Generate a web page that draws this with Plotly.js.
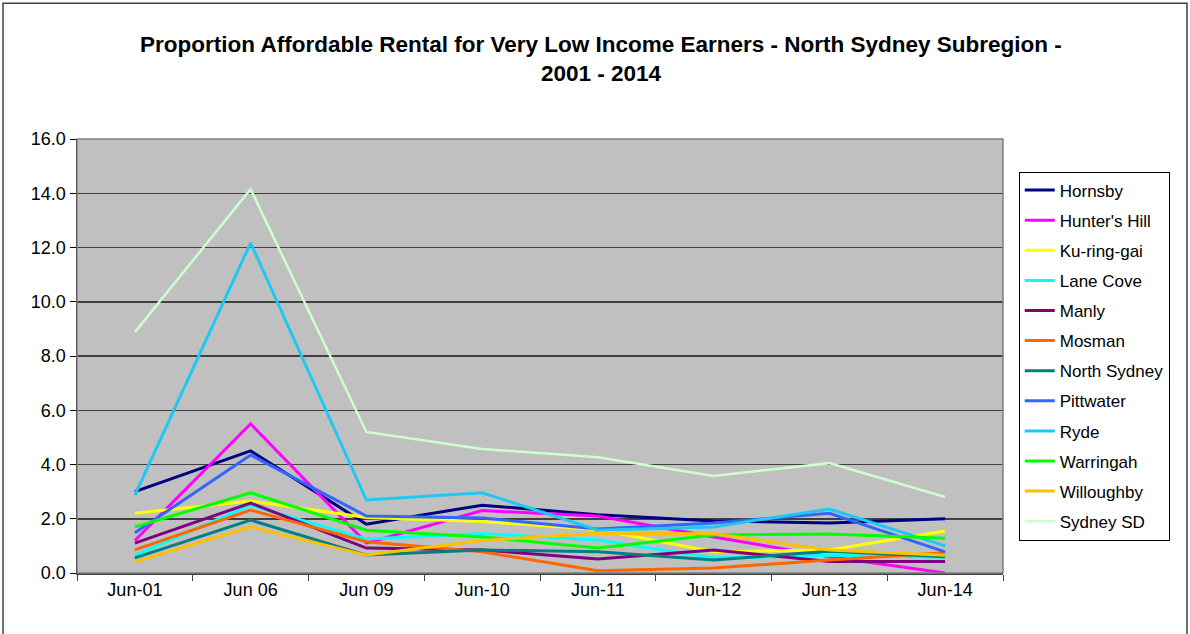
<!DOCTYPE html>
<html>
<head>
<meta charset="utf-8">
<script src="https://cdn.plot.ly/plotly-3.0.1.min.js"></script>
<style>html,body{margin:0;padding:0;background:#fff;}#chart{width:1190px;height:634px;}</style>
</head>
<body>
<div id="chart"></div>
<script>
var categories = ["Jun-01", "Jun 06", "Jun 09", "Jun-10", "Jun-11", "Jun-12", "Jun-13", "Jun-14"];
var seriesNames = ["Hornsby", "Hunter's Hill", "Ku-ring-gai", "Lane Cove", "Manly", "Mosman", "North Sydney", "Pittwater", "Ryde", "Warringah", "Willoughby", "Sydney SD"];

var hornsby     = [3.0, 4.5, 1.8, 2.5, 2.15, 1.92, 1.84, 2.0];
var huntersHill = [1.2, 5.5, 1.1, 2.3, 2.1, 1.33, 0.6, 0.0];
var kuringgai   = [2.2, 2.65, 2.05, 1.9, 1.6, 0.78, 0.85, 1.55];
var laneCove    = [0.65, 2.5, 1.25, 1.45, 1.22, 0.55, 0.65, 0.58];
var manly       = [1.1, 2.58, 0.92, 0.85, 0.52, 0.85, 0.42, 0.42];
var mosman      = [0.85, 2.32, 1.15, 0.78, 0.08, 0.18, 0.48, 0.75];
var northSydney = [0.56, 1.95, 0.66, 0.85, 0.78, 0.48, 0.8, 0.6];
var pittwater   = [1.48, 4.35, 2.1, 2.03, 1.62, 1.84, 2.2, 0.78];
var ryde        = [2.87, 12.17, 2.69, 2.96, 1.58, 1.7, 2.36, 1.0];
var warringah   = [1.7, 2.96, 1.58, 1.33, 0.92, 1.4, 1.44, 1.28];
var willoughby  = [0.41, 1.7, 0.66, 1.2, 1.47, 1.45, 0.85, 0.65];
var sydneySD    = [8.88, 14.15, 5.2, 4.57, 4.27, 3.58, 4.05, 2.8];

var seriesValues = [hornsby, huntersHill, kuringgai, laneCove, manly, mosman, northSydney, pittwater, ryde, warringah, willoughby, sydneySD];
var colors = ["#000080", "#FF00FF", "#FFFF00", "#00FFFF", "#800080", "#FF6600", "#008080", "#3366FF", "#1EC8F5", "#00FF00", "#FFC000", "#CCFFCC"];
var widths = [3, 3, 3, 3, 3, 3, 3, 3, 3, 3, 3, 2.5];

var traces = seriesNames.map(function (n, i) {
  return {
    type: "scatter", mode: "lines", name: n,
    x: categories, y: seriesValues[i],
    line: {color: colors[i], width: widths[i]},
    legendgroup: n
  };
});

var font = "Liberation Sans, Arial, sans-serif";
var layout = {
  width: 1190, height: 634,
  margin: {l: 77, r: 187, t: 139, b: 61},
  paper_bgcolor: "#ffffff",
  plot_bgcolor: "#C0C0C0",
  font: {family: font, color: "#000", size: 18},
  title: {
    text: "<b>Proportion Affordable Rental for Very Low Income Earners - North Sydney Subregion -<br>2001 - 2014</b>",
    font: {family: font, size: 22.5, color: "#000"},
    xref: "container", x: 0.505, xanchor: "center",
    yref: "container", y: 0.918, yanchor: "top"
  },
  xaxis: {
    type: "category",
    range: [-0.5, 7.5],
    showgrid: false,
    showline: true, linecolor: "#404040", linewidth: 1.5,
    ticks: "outside", tickson: "boundaries", ticklen: 6, tickcolor: "#404040",
    tickfont: {family: font, size: 18, color: "#000"},
    zeroline: false,
    fixedrange: true
  },
  yaxis: {
    range: [0, 16], dtick: 2, tickformat: ".1f",
    showgrid: true, gridcolor: "#404040", gridwidth: 1.5,
    showline: true, linecolor: "#000", linewidth: 1.5,
    ticks: "outside", ticklen: 6, tickcolor: "#000",
    tickfont: {family: font, size: 18, color: "#000"},
    zeroline: false,
    fixedrange: true
  },
  showlegend: true,
  legend: {
    x: 1.017, xanchor: "left", y: 0.925, yanchor: "top",
    bgcolor: "#fff", bordercolor: "#000", borderwidth: 1,
    font: {family: font, size: 17, color: "#000"},
    traceorder: "grouped", tracegroupgap: 5,
    itemwidth: 30
  },
  shapes: [
    {type: "rect", xref: "paper", yref: "paper", x0: 0, x1: 1, y0: 0, y1: 1,
     line: {color: "#808080", width: 1.5}, layer: "above"},
    {type: "rect", xref: "paper", yref: "paper", x0: -0.0799, x1: 1.1987, y0: -0.3, y1: 1.313,
     line: {color: "#404040", width: 1.5}}
  ]
};

Plotly.newPlot("chart", traces, layout, {displayModeBar: false, staticPlot: true});
</script>
</body>
</html>
